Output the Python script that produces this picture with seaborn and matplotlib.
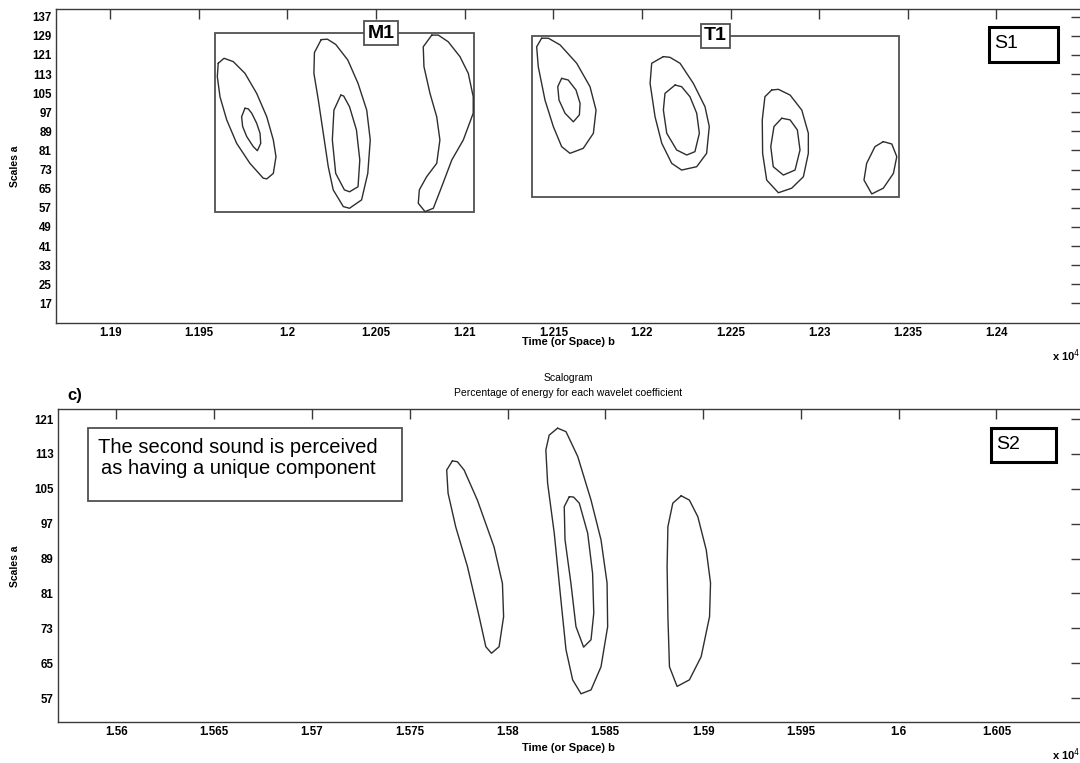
import numpy as np
import pandas as pd
import seaborn as sns
import matplotlib.pyplot as plt
import matplotlib.patches as patches

# contour outlines, (time b [x10^4], scale a)
m1_left_outer = [(1.19609, 117.5), (1.19604, 111.9), (1.19619, 103.5), (1.19657, 93.8), (1.19713, 84.0),
                 (1.19788, 75.6), (1.19863, 69.4), (1.19883, 69.1), (1.19920, 71.4), (1.19935, 78.4),
                 (1.19920, 85.4), (1.19883, 95.1), (1.19826, 104.9), (1.19760, 113.3), (1.19694, 118.2),
                 (1.19642, 119.6)]
m1_left_inner = [(1.19760, 98.7), (1.19741, 95.1), (1.19747, 91.0), (1.19770, 86.8), (1.19807, 82.6),
                 (1.19830, 80.9), (1.19849, 84.0), (1.19845, 88.2), (1.19826, 92.4), (1.19798, 96.6),
                 (1.19779, 98.4)]
m1_mid_outer = [(1.20190, 127.4), (1.20152, 122.0), (1.20149, 113.3), (1.20174, 102.1), (1.20202, 88.2),
                (1.20230, 74.2), (1.20258, 64.5), (1.20315, 57.5), (1.20350, 56.8), (1.20418, 60.3),
                (1.20453, 71.4), (1.20467, 85.4), (1.20447, 97.9), (1.20398, 109.1), (1.20340, 118.9),
                (1.20272, 125.4), (1.20225, 127.6)]
m1_mid_inner = [(1.20301, 104.2), (1.20262, 97.9), (1.20253, 85.4), (1.20272, 71.4), (1.20321, 64.5),
                (1.20350, 63.7), (1.20398, 65.8), (1.20408, 77.0), (1.20389, 89.6), (1.20350, 99.3),
                (1.20317, 103.8)]
m1_right = [(1.20814, 129.3), (1.20766, 124.4), (1.20770, 116.1), (1.20804, 104.9), (1.20842, 95.1),
            (1.20860, 85.4), (1.20842, 75.6), (1.20785, 70.0), (1.20744, 64.5), (1.20738, 58.9),
            (1.20776, 55.4), (1.20823, 56.8), (1.20870, 65.8), (1.20927, 77.0), (1.20992, 85.4),
            (1.21048, 96.6), (1.21048, 103.5), (1.21020, 113.3), (1.20973, 120.3), (1.20907, 126.5),
            (1.20851, 129.3)]
t1_first_outer = [(1.21434, 128.0), (1.21406, 124.4), (1.21415, 116.1), (1.21453, 102.1), (1.21500, 91.0),
                  (1.21547, 82.6), (1.21594, 79.8), (1.21669, 81.9), (1.21726, 88.2), (1.21741, 97.9),
                  (1.21707, 107.7), (1.21632, 117.5), (1.21538, 125.2), (1.21472, 128.0)]
t1_first_inner = [(1.21547, 111.2), (1.21525, 107.7), (1.21532, 102.1), (1.21566, 96.6), (1.21613, 93.0),
                  (1.21647, 95.9), (1.21651, 100.7), (1.21628, 106.3), (1.21584, 110.5)]
t1_second_outer = [(1.22121, 120.3), (1.22055, 117.5), (1.22046, 109.1), (1.22074, 95.1), (1.22112, 84.0),
                   (1.22168, 75.6), (1.22224, 72.8), (1.22309, 74.2), (1.22365, 79.8), (1.22380, 91.0),
                   (1.22356, 99.3), (1.22290, 109.1), (1.22215, 117.5), (1.22158, 120.0)]
t1_second_inner = [(1.22187, 108.4), (1.22130, 104.9), (1.22121, 97.9), (1.22140, 88.2), (1.22196, 81.2),
                   (1.22253, 79.1), (1.22299, 80.5), (1.22324, 88.2), (1.22309, 96.6), (1.22271, 103.5),
                   (1.22224, 107.7)]
t1_third_outer = [(1.22732, 106.3), (1.22694, 103.5), (1.22679, 93.8), (1.22681, 79.8), (1.22704, 68.6),
                  (1.22770, 63.3), (1.22845, 65.2), (1.22911, 70.0), (1.22939, 79.8), (1.22939, 88.2),
                  (1.22902, 97.9), (1.22836, 104.2), (1.22770, 106.6)]
t1_third_inner = [(1.22789, 94.5), (1.22745, 91.0), (1.22727, 82.6), (1.22741, 74.2), (1.22798, 70.7),
                  (1.22864, 72.8), (1.22892, 81.2), (1.22877, 89.6), (1.22836, 93.8)]
t1_fourth = [(1.23362, 84.7), (1.23315, 82.6), (1.23268, 75.6), (1.23253, 68.6), (1.23297, 62.8),
             (1.23362, 65.2), (1.23419, 71.4), (1.23438, 78.4), (1.23410, 83.7)]

s2_first = [(1.57718, 111.4), (1.57689, 109.3), (1.57696, 104.0), (1.57735, 96.3), (1.57795, 87.2),
            (1.57855, 75.7), (1.57889, 68.8), (1.57918, 67.3), (1.57957, 68.8), (1.57980, 75.7),
            (1.57974, 83.3), (1.57931, 91.7), (1.57846, 102.4), (1.57778, 109.3), (1.57744, 111.2)]
s2_second_outer = [(1.58256, 118.9), (1.58213, 117.3), (1.58196, 113.9), (1.58205, 106.3), (1.58239, 94.8),
                   (1.58273, 79.5), (1.58299, 68.1), (1.58333, 61.2), (1.58376, 58.0), (1.58427, 58.9),
                   (1.58478, 64.2), (1.58512, 73.4), (1.58509, 83.4), (1.58478, 93.3), (1.58427, 102.4),
                   (1.58359, 112.4), (1.58299, 118.1)]
s2_second_inner = [(1.58316, 103.2), (1.58290, 100.9), (1.58294, 93.3), (1.58324, 83.4), (1.58350, 73.4),
                   (1.58389, 68.7), (1.58427, 70.4), (1.58441, 76.5), (1.58435, 85.6), (1.58410, 94.8),
                   (1.58367, 101.7), (1.58338, 103.1)]
s2_third = [(1.58888, 103.4), (1.58845, 101.7), (1.58820, 96.3), (1.58816, 87.2), (1.58820, 75.7),
            (1.58828, 64.2), (1.58867, 59.7), (1.58930, 61.2), (1.58990, 66.5), (1.59033, 75.7),
            (1.59038, 83.4), (1.59016, 91.0), (1.58973, 98.6), (1.58930, 102.4)]

# axes ticks
top_xticks = [1.19, 1.195, 1.2, 1.205, 1.21, 1.215, 1.22, 1.225, 1.23, 1.235, 1.24]
top_xlabels = ['1.19', '1.195', '1.2', '1.205', '1.21', '1.215', '1.22', '1.225', '1.23', '1.235', '1.24']
top_yticks = [17, 25, 33, 41, 49, 57, 65, 73, 81, 89, 97, 105, 113, 121, 129, 137]
bot_xticks = [1.56, 1.565, 1.57, 1.575, 1.58, 1.585, 1.59, 1.595, 1.6, 1.605]
bot_xlabels = ['1.56', '1.565', '1.57', '1.575', '1.58', '1.585', '1.59', '1.595', '1.6', '1.605']
bot_yticks = [57, 65, 73, 81, 89, 97, 105, 113, 121]


def to_frame(contours):
    rows = []
    for name, pts in contours.items():
        loop = pts + [pts[0]]
        for i, (b, a) in enumerate(loop):
            rows.append({'contour': name, 'order': i, 'b': b, 'a': a})
    return pd.DataFrame(rows)


top_df = to_frame({'m1a': m1_left_outer, 'm1b': m1_left_inner, 'm1c': m1_mid_outer, 'm1d': m1_mid_inner,
                   'm1e': m1_right, 't1a': t1_first_outer, 't1b': t1_first_inner, 't1c': t1_second_outer,
                   't1d': t1_second_inner, 't1e': t1_third_outer, 't1f': t1_third_inner, 't1g': t1_fourth})
bot_df = to_frame({'s2a': s2_first, 's2b': s2_second_outer, 's2c': s2_second_inner, 's2d': s2_third})

sns.set_theme(style='white', rc={'axes.edgecolor': '#3a3a3a', 'axes.linewidth': 1.0,
                                 'xtick.direction': 'in', 'ytick.direction': 'in',
                                 'text.color': 'black', 'xtick.labelcolor': 'black',
                                 'ytick.labelcolor': 'black'})
plt.rcParams['font.family'] = ['Liberation Sans', 'DejaVu Sans']

fig = plt.figure(figsize=(10.8, 7.63), dpi=100)
ax1 = fig.add_axes([0.0519, 0.5771, 0.9491, 0.4107])
ax2 = fig.add_axes([0.0534, 0.0541, 0.9475, 0.4099])

line_col = '#2e2e2e'
sns.lineplot(data=top_df, x='b', y='a', units='contour', estimator=None, sort=False,
             color=line_col, linewidth=1.0, solid_joinstyle='round', ax=ax1, legend=False)
sns.lineplot(data=bot_df, x='b', y='a', units='contour', estimator=None, sort=False,
             color=line_col, linewidth=1.0, solid_joinstyle='round', ax=ax2, legend=False)

ax1.set_xlim(1.18694, 1.24478)
ax1.set_ylim(8.9, 140.1)
ax2.set_xlim(1.55700, 1.60932)
ax2.set_ylim(51.6, 123.3)

for ax, xt, xl, yt in [(ax1, top_xticks, top_xlabels, top_yticks), (ax2, bot_xticks, bot_xlabels, bot_yticks)]:
    ax.set_xticks(xt)
    ax.set_xticklabels(xl, fontsize=8.3, fontweight='bold')
    ax.set_yticks(yt)
    ax.set_yticklabels([str(v) for v in yt], fontsize=8.3, fontweight='bold')
    ax.tick_params(axis='both', direction='in', length=7, width=1, color='#3a3a3a',
                   top=True, right=True, pad=3)
    ax.set_xlabel('')
    ax.set_ylabel('')
    for s in ax.spines.values():
        s.set_visible(True)

# M1 / T1 group boxes
ax1.add_patch(patches.Rectangle((1.19591, 55.1), 1.21054 - 1.19591, 130.05 - 55.1,
                                fill=False, edgecolor='#505050', linewidth=1.3))
ax1.add_patch(patches.Rectangle((1.21381, 61.65), 1.23451 - 1.21381, 129.05 - 61.65,
                                fill=False, edgecolor='#505050', linewidth=1.3))
ax1.text(1.20528, 130.05, 'M1', ha='center', va='center', fontsize=14, fontweight='bold',
         bbox=dict(boxstyle='square,pad=0.18', facecolor='white', edgecolor='#505050', linewidth=1.3))
ax1.text(1.22415, 129.05, 'T1', ha='center', va='center', fontsize=14, fontweight='bold',
         bbox=dict(boxstyle='square,pad=0.18', facecolor='white', edgecolor='#505050', linewidth=1.3))

# S1 / S2 tags
ax1.add_patch(patches.Rectangle((1.23958, 117.9), 1.24346 - 1.23958, 132.6 - 117.9,
                                fill=False, edgecolor='black', linewidth=2.2))
ax1.text(1.23987, 125.6, 'S1', ha='left', va='center', fontsize=14)
ax2.add_patch(patches.Rectangle((1.60472, 111.2), 1.60805 - 1.60472, 119.0 - 111.2,
                                fill=False, edgecolor='black', linewidth=2.2))
ax2.text(1.60496, 115.2, 'S2', ha='left', va='center', fontsize=14)

# note box
ax2.add_patch(patches.Rectangle((1.55857, 102.2), 1.57460 - 1.55857, 118.9 - 102.2,
                                fill=False, edgecolor='#505050', linewidth=1.3))
ax2.text(1.56623, 112.0, 'The second sound is perceived\nas having a unique component',
         ha='center', va='center', fontsize=14.5, linespacing=1.15)

# labels outside the axes
fig.text(0.014, 0.7815, 'Scales a', rotation=90, ha='center', va='center', fontsize=7.5, fontweight='bold')
fig.text(0.014, 0.2573, 'Scales a', rotation=90, ha='center', va='center', fontsize=7.5, fontweight='bold')
fig.text(0.526, 0.5518, 'Time (or Space) b', ha='center', va='center', fontsize=8, fontweight='bold')
fig.text(0.526, 0.0197, 'Time (or Space) b', ha='center', va='center', fontsize=8, fontweight='bold')
fig.text(0.974, 0.5340, 'x 10$^4$', ha='left', va='center', fontsize=8, fontweight='bold')
fig.text(0.974, 0.0105, 'x 10$^4$', ha='left', va='center', fontsize=8, fontweight='bold')
fig.text(0.526, 0.5046, 'Scalogram', ha='center', va='center', fontsize=7.5)
fig.text(0.526, 0.4849, 'Percentage of energy for each wavelet coefficient', ha='center', va='center', fontsize=7.5)
fig.text(0.062, 0.481, 'c)', ha='left', va='center', fontsize=12, fontweight='bold')

fig.savefig('out.png', dpi=100)
